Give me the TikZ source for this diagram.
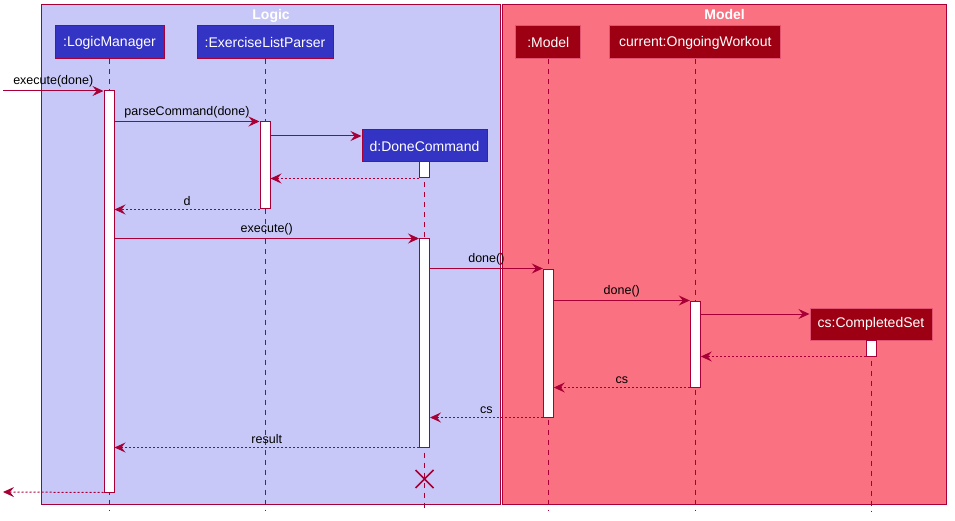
\documentclass[tikz,border=0pt]{standalone}
\usepackage{fontspec}
\setmainfont{Liberation Sans}
\usepackage{tikz}
\usetikzlibrary{arrows.meta,positioning,calc}
\definecolor{umlred}{RGB}{168,0,54}
\definecolor{logicbg}{RGB}{200,200,248}
\definecolor{modelbg}{RGB}{250,114,130}
\definecolor{logicbox}{RGB}{51,51,196}
\definecolor{modelbox}{RGB}{157,0,18}
\definecolor{modelline}{RGB}{226,84,112}

\begin{document}
\begin{tikzpicture}[
    x=1pt, y=-1pt,
    boxframe/.style={rectangle, draw=umlred, line width=1.2pt, inner sep=0pt, anchor=north west},
    frametitle/.style={text=white, inner sep=1pt, font=\fontsize{14}{16}\selectfont\bfseries},
    logicpart/.style={rectangle, draw=umlred, fill=logicbox, text=white, line width=1pt, minimum height=33pt, inner sep=0pt, font=\fontsize{14}{16}\selectfont},
    modelpart/.style={logicpart, draw=modelline, fill=modelbox},
    act/.style={rectangle, draw=umlred, fill=white, line width=1pt, minimum width=10pt, inner sep=0pt},
    life/.style={draw=umlred, line width=1pt, dash pattern=on 5pt off 5pt},
    call/.style={draw=umlred, line width=1pt, -{Stealth[length=11pt,width=10pt,inset=4pt]}},
    ret/.style={call, dash pattern=on 2pt off 2pt},
    lbl/.style={midway, above=2pt, inner sep=1pt, font=\fontsize{12.5}{15}\selectfont}
]
    \useasboundingbox (0,0) rectangle (955,521);

    % boxes
    \node[boxframe, fill=logicbg, minimum width=459pt, minimum height=500pt] (logic) at (41,4) {};
    \node[boxframe, fill=modelbg, minimum width=444pt, minimum height=500pt] (model) at (502,4) {};
    \node[frametitle, below=4.5pt of logic.north] {Logic};
    \node[frametitle, below=4.5pt of model.north] {Model};

    % participants
    \node[logicpart, minimum width=109pt] (lm) at (109.5,42.5) {:LogicManager};
    \node[logicpart, minimum width=136pt] (parser) at (265,42.5) {:ExerciseListParser};
    \node[logicpart, minimum width=125pt, minimum height=32pt] (donecmd) at (424.5,146) {d:DoneCommand};
    \node[modelpart, minimum width=65pt] (mdl) at (548.3,42.5) {:Model};
    \node[modelpart, minimum width=171pt] (workout) at (695.3,42.5) {current:OngoingWorkout};
    \node[modelpart, minimum width=122pt, minimum height=32pt] (cset) at (871,324) {cs:CompletedSet};

    \coordinate (bottom) at (0,511);
    \foreach \p in {lm,parser,donecmd,mdl,workout,cset}
        \draw[life] (\p.south) -- (\p.south |- bottom);

    % activations
    \node[act, minimum height=401pt] (actLM) at (109,291.5) {};
    \node[act, minimum height=87pt] (actPS) at (265,165.5) {};
    \node[act, minimum height=16pt] (actDCa) at (424.5,170) {};
    \node[act, minimum height=208pt] (actDCb) at (424.5,343) {};
    \node[act, minimum height=148pt] (actMD) at (548.3,343) {};
    \node[act, minimum height=86pt] (actOW) at (695.3,344) {};
    \node[act, minimum height=16pt] (actCS) at (871,348) {};

    % messages
    \coordinate (in) at (3,91);
    \coordinate (out) at (3,492);
    \draw[call] (in) -- node[lbl] {execute(done)} (actLM.west |- in);
    \draw[call] (actLM.east |- actPS.north) -- node[lbl] {parseCommand(done)} (actPS.north west);
    \draw[call] (actPS.east |- 0,136) -- (donecmd.west |- 0,136);
    \draw[ret] (actDCa.south west) -- (actPS.east |- actDCa.south west);
    \draw[ret] (actPS.south west) -- node[lbl] {d} (actLM.east |- actPS.south west);
    \draw[call] (actLM.east |- actDCb.north) -- node[lbl] {execute()} (actDCb.north west);
    \draw[call] (actDCb.east |- actMD.north) -- node[lbl] {done()} (actMD.north west);
    \draw[call] (actMD.east |- actOW.north) -- node[lbl] {done()} (actOW.north west);
    \draw[call] (actOW.east |- 0,314) -- (cset.west |- 0,314);
    \draw[ret] (actCS.south west) -- (actOW.east |- actCS.south west);
    \draw[ret] (actOW.south west) -- node[lbl] {cs} (actMD.east |- actOW.south west);
    \draw[ret] (actMD.south west) -- node[lbl] {cs} (actDCb.east |- actMD.south west);
    \draw[ret] (actDCb.south west) -- node[lbl] {result} (actLM.east |- actDCb.south west);
    \draw[ret] (actLM.south west) -- (out);

    % destroy
    \coordinate (kill) at (donecmd |- 0,479);
    \draw[umlred, line width=1.5pt] (kill) +(-9,-9) -- +(9,9) +(-9,9) -- +(9,-9);
\end{tikzpicture}
\end{document}
